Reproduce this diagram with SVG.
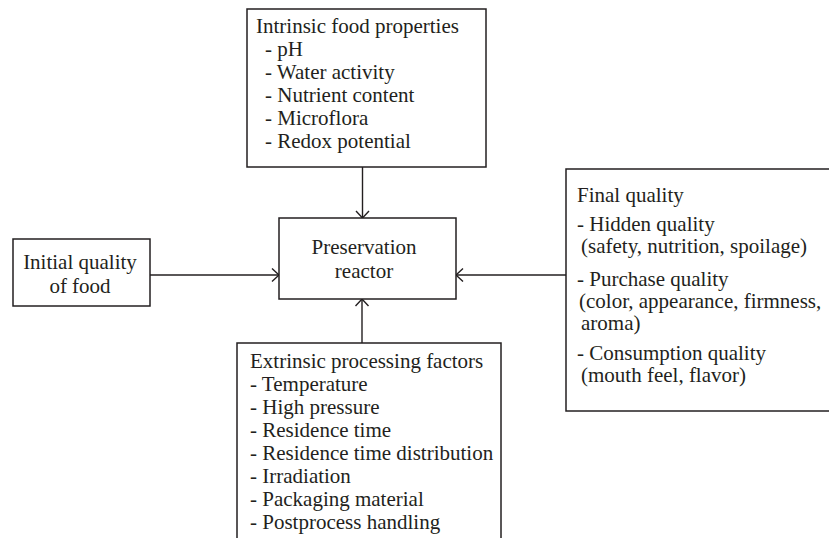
<svg xmlns="http://www.w3.org/2000/svg" width="829" height="538" viewBox="0 0 829 538">
<defs>
<marker id="arr" markerUnits="userSpaceOnUse" markerWidth="12" markerHeight="16" refX="8" refY="7" orient="auto" viewBox="0 0 12 16">
<path d="M1,0.5 L8,7 L1,13.5" fill="none" stroke="#231f20" stroke-width="1.4"/>
</marker>
<style>
.box{fill:#fff;stroke:#231f20;stroke-width:1.5}
.t{font-family:"Liberation Serif","Times New Roman",serif;font-size:21px;fill:#231f20}
.c{text-anchor:middle}
.ln{stroke:#231f20;stroke-width:1.4;fill:none;marker-end:url(#arr)}
</style>
</defs>
<rect width="829" height="538" fill="#fff"/>
<g id="connectors">
<line class="ln" x1="362.5" y1="167" x2="362.5" y2="218"/>
<line class="ln" x1="150" y1="275" x2="279" y2="275"/>
<line class="ln" x1="566" y1="275" x2="456" y2="275"/>
<line class="ln" x1="362" y1="343" x2="362" y2="299"/>
</g>
<g id="intrinsic">
<rect class="box" x="247" y="9" width="239" height="158"/>
<text class="t" x="256" y="33">Intrinsic food properties</text>
<text class="t" x="265" y="56">- pH</text>
<text class="t" x="265" y="79">- Water activity</text>
<text class="t" x="265" y="102">- Nutrient content</text>
<text class="t" x="265" y="125">- Microflora</text>
<text class="t" x="265" y="148">- Redox potential</text>
</g>
<g id="initial">
<rect class="box" x="13" y="239" width="137" height="67"/>
<text class="t c" x="80" y="269">Initial quality</text>
<text class="t c" x="80" y="293">of food</text>
</g>
<g id="reactor">
<rect class="box" x="279" y="218" width="177" height="81"/>
<text class="t c" x="364" y="254">Preservation</text>
<text class="t c" x="364" y="278">reactor</text>
</g>
<g id="extrinsic">
<rect class="box" x="237" y="343" width="264" height="200"/>
<text class="t" x="250" y="368">Extrinsic processing factors</text>
<text class="t" x="250" y="391">- Temperature</text>
<text class="t" x="250" y="414">- High pressure</text>
<text class="t" x="250" y="437">- Residence time</text>
<text class="t" x="250" y="460">- Residence time distribution</text>
<text class="t" x="250" y="483">- Irradiation</text>
<text class="t" x="250" y="506">- Packaging material</text>
<text class="t" x="250" y="529">- Postprocess handling</text>
</g>
<g id="final">
<rect class="box" x="566" y="169" width="280" height="242"/>
<text class="t" x="577" y="202">Final quality</text>
<text class="t" x="577" y="231">- Hidden quality</text>
<text class="t" x="581" y="253">(safety, nutrition, spoilage)</text>
<text class="t" x="577" y="286">- Purchase quality</text>
<text class="t" x="579" y="308">(color, appearance, firmness,</text>
<text class="t" x="581" y="330">aroma)</text>
<text class="t" x="577" y="360">- Consumption quality</text>
<text class="t" x="581" y="382">(mouth feel, flavor)</text>
</g>
</svg>
